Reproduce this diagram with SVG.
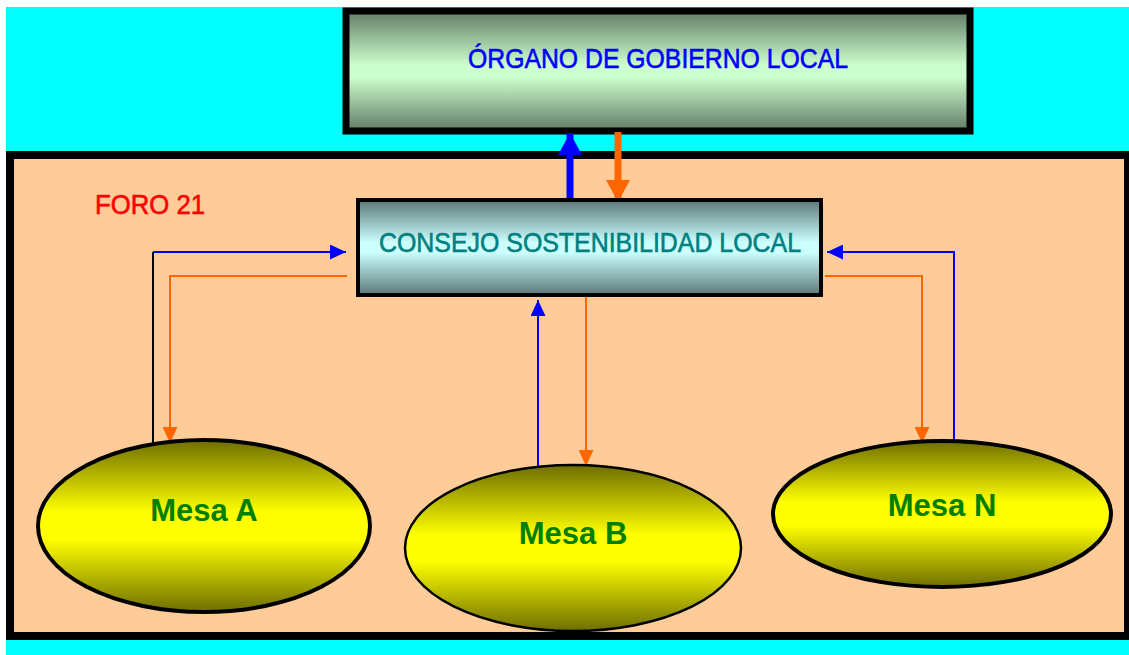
<svg xmlns="http://www.w3.org/2000/svg" width="1129" height="655" viewBox="0 0 1129 655">
<style>
.narrow{font-family:"Liberation Sans Narrow","Arial Narrow","Liberation Sans",Arial,sans-serif;font-size:28px;stroke-width:0.6}
.mesa{font-family:"Liberation Sans",Arial,sans-serif;font-size:31px;font-weight:bold;fill:#008000;text-anchor:middle}
.thin{fill:none;stroke-width:2}
</style>
<defs>
<linearGradient id="gTop" x1="0" y1="0" x2="0" y2="1">
<stop offset="0" stop-color="#627a66"/>
<stop offset="0.45" stop-color="#ccffcc"/>
<stop offset="0.55" stop-color="#ccffcc"/>
<stop offset="1" stop-color="#627a66"/>
</linearGradient>
<linearGradient id="gCons" x1="0" y1="0" x2="0" y2="1">
<stop offset="0" stop-color="#5c7878"/>
<stop offset="0.45" stop-color="#ccffff"/>
<stop offset="0.55" stop-color="#ccffff"/>
<stop offset="1" stop-color="#5c7878"/>
</linearGradient>
<linearGradient id="gMesa" x1="0" y1="0" x2="0" y2="1">
<stop offset="0" stop-color="#6e6e00"/>
<stop offset="0.42" stop-color="#ffff00"/>
<stop offset="0.58" stop-color="#ffff00"/>
<stop offset="1" stop-color="#6e6e00"/>
</linearGradient>
<marker id="aBlue" viewBox="0 0 10 10" refX="10" refY="5" markerUnits="userSpaceOnUse" markerWidth="16" markerHeight="15" orient="auto" preserveAspectRatio="none"><path d="M0,0 L10,5 L0,10 z" fill="#0000ff"/></marker>
<marker id="aOr" viewBox="0 0 10 10" refX="10" refY="5" markerUnits="userSpaceOnUse" markerWidth="16" markerHeight="15" orient="auto" preserveAspectRatio="none"><path d="M0,0 L10,5 L0,10 z" fill="#ff6600"/></marker>
<marker id="aBlueBig" viewBox="0 0 10 10" refX="10" refY="5" markerUnits="userSpaceOnUse" markerWidth="22" markerHeight="24" orient="auto" preserveAspectRatio="none"><path d="M0,0 L10,5 L0,10 z" fill="#0000ff"/></marker>
<marker id="aOrBig" viewBox="0 0 10 10" refX="10" refY="5" markerUnits="userSpaceOnUse" markerWidth="22" markerHeight="24" orient="auto" preserveAspectRatio="none"><path d="M0,0 L10,5 L0,10 z" fill="#ff6600"/></marker>
</defs>
<rect x="0" y="0" width="1129" height="655" fill="#ffffff"/>
<rect x="6" y="7" width="1123" height="648" fill="#00ffff"/>
<g id="foro">
<rect x="10" y="155" width="1118" height="481" fill="#ffcc99" stroke="#000000" stroke-width="8"/>
<text class="narrow" x="95" y="214" fill="#ff0000" stroke="#ff0000" textLength="110" lengthAdjust="spacingAndGlyphs">FORO 21</text>
</g>
<g id="organo">
<rect x="346" y="11" width="624" height="120" fill="url(#gTop)" stroke="#000000" stroke-width="7"/>
<text class="narrow" x="468" y="68" fill="#0000ff" stroke="#0000ff" textLength="380" lengthAdjust="spacingAndGlyphs">ÓRGANO DE GOBIERNO LOCAL</text>
</g>
<g id="connectors">
<line x1="570" y1="203" x2="570" y2="133" stroke="#0000ff" stroke-width="7" marker-end="url(#aBlueBig)"/>
<line x1="618" y1="132" x2="618" y2="202" stroke="#ff6600" stroke-width="7" marker-end="url(#aOrBig)"/>
<polyline class="thin" points="153,443 153,252" stroke="#000000"/>
<polyline class="thin" points="153,252 346,252" stroke="#0000ff" marker-end="url(#aBlue)"/>
<polyline class="thin" points="347,276 170,276 170,443" stroke="#ff6600" marker-end="url(#aOr)"/>
<polyline class="thin" points="538,466 538,300" stroke="#0000ff" marker-end="url(#aBlue)"/>
<polyline class="thin" points="586,297 586,466" stroke="#ff6600" marker-end="url(#aOr)"/>
<polyline class="thin" points="954,444 954,252 827,252" stroke="#0000ff" marker-end="url(#aBlue)"/>
<polyline class="thin" points="825,276 922,276 922,443" stroke="#ff6600" marker-end="url(#aOr)"/>
</g>
<g id="consejo">
<rect x="358" y="200" width="463" height="95" fill="url(#gCons)" stroke="#000000" stroke-width="4"/>
<text class="narrow" x="379" y="252" fill="#008080" stroke="#008080" textLength="422" lengthAdjust="spacingAndGlyphs">CONSEJO SOSTENIBILIDAD LOCAL</text>
</g>
<g id="mesaA">
<ellipse cx="204" cy="526" rx="166" ry="86" fill="url(#gMesa)" stroke="#000000" stroke-width="4"/>
<text class="mesa" x="204" y="521">Mesa A</text>
</g>
<g id="mesaB">
<ellipse cx="573" cy="548" rx="168" ry="83" fill="url(#gMesa)" stroke="#000000" stroke-width="2.5"/>
<text class="mesa" x="573" y="544">Mesa B</text>
</g>
<g id="mesaN">
<ellipse cx="942" cy="514" rx="169" ry="73" fill="url(#gMesa)" stroke="#000000" stroke-width="4"/>
<text class="mesa" x="942" y="516">Mesa N</text>
</g>
</svg>
